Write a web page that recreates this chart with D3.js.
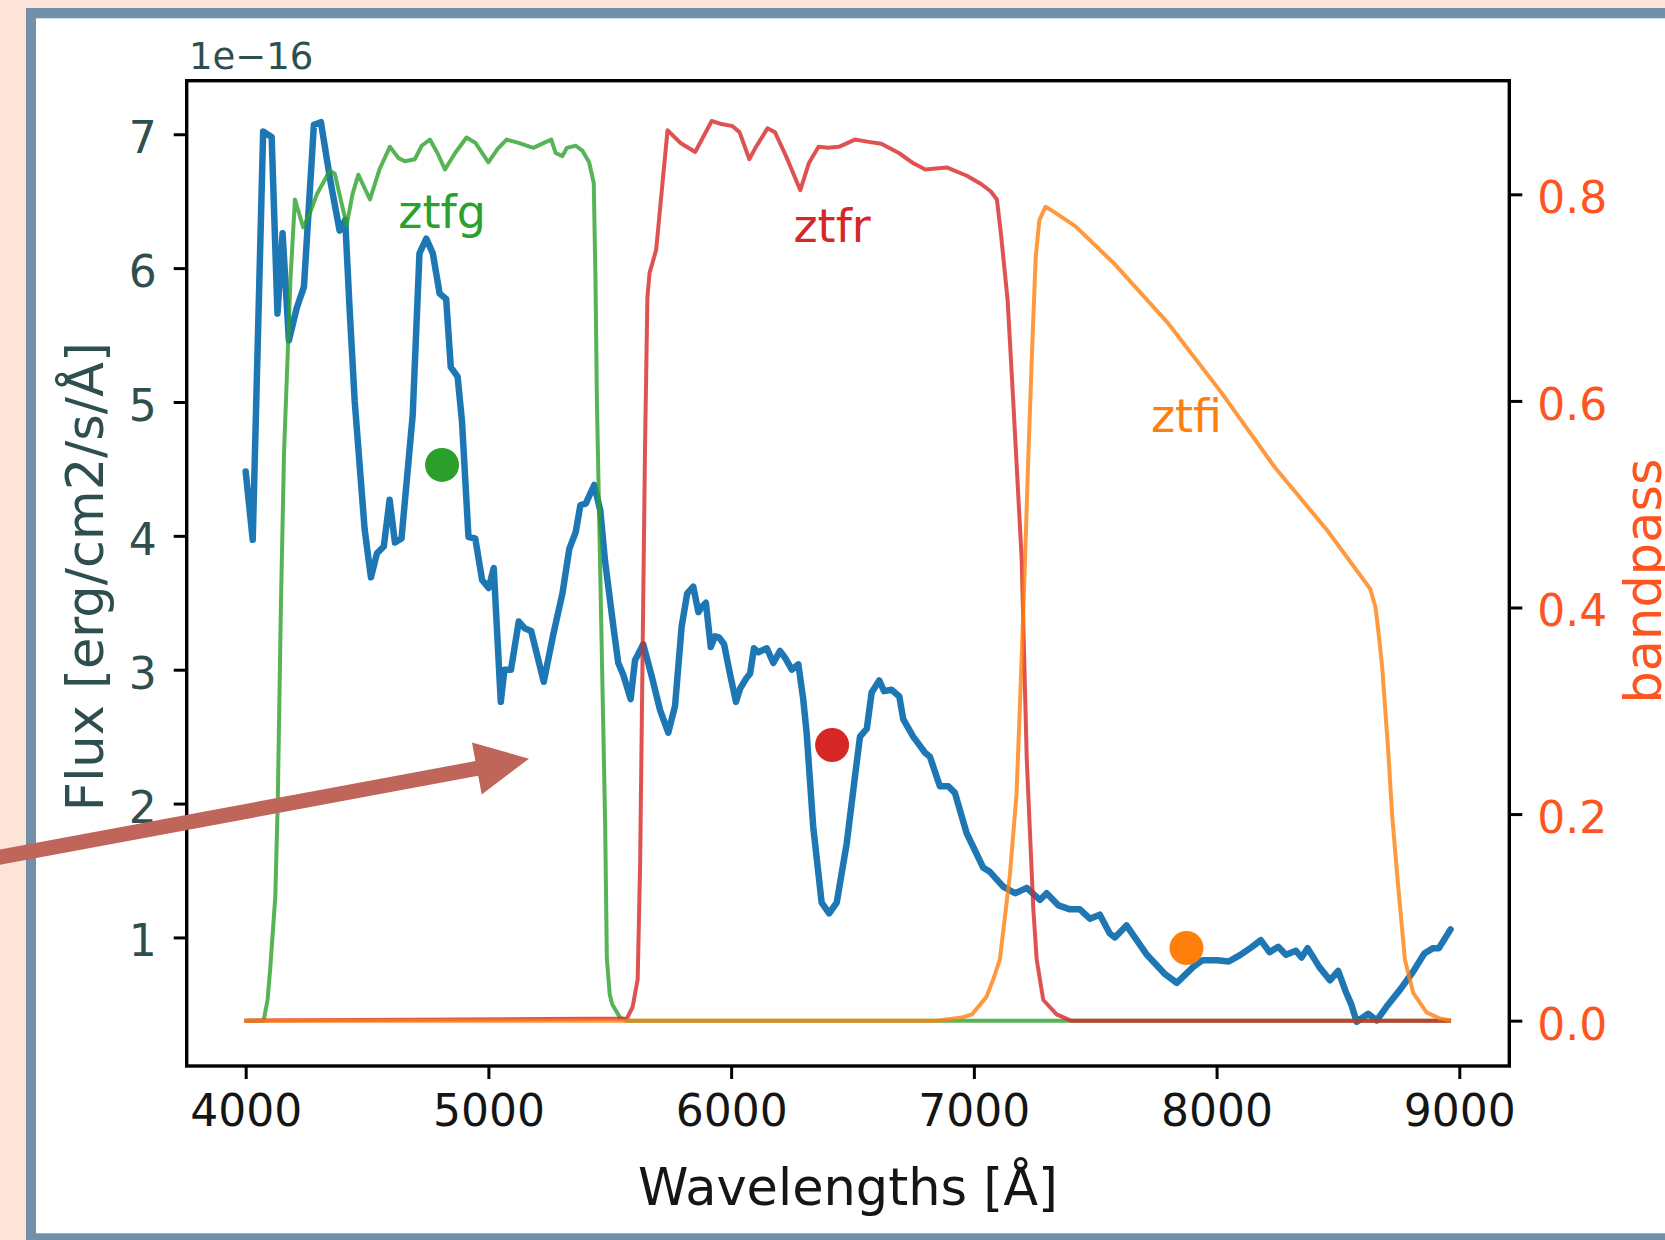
<!DOCTYPE html>
<html><head><meta charset="utf-8">
<script src="https://cdn.jsdelivr.net/npm/d3@7"></script>
<style>html,body{margin:0;padding:0;background:#fde4d8;}svg{display:block;}</style>
</head><body>
<svg id="chart" width="1665" height="1240"></svg>
<script>
// ---------------- data ----------------
const specWave = [4000,4029,4072,4107,4131,4152,4178,4210,4240,4281,4310,4350,4387,4410,4428,4449,4490,4516,4541,4569,4593,4615,4642,4688,4716,4744,4771,4799,4826,4845,4873,4891,4918,4946,4974,5001,5022,5051,5066,5093,5125,5149,5176,5228,5268,5305,5333,5360,5379,5401,5436,5461,5480,5515,5535,5556,5586,5604,5638,5673,5707,5741,5769,5796,5819,5844,5865,5879,5896,5916,5934,5951,5971,5995,6020,6037,6064,6078,6094,6112,6147,6174,6201,6222,6250,6277,6297,6311,6338,6373,6404,6435,6476,6510,6531,6559,6579,6610,6630,6661,6693,6709,6750,6799,6819,6860,6895,6922,6970,7039,7066,7121,7170,7218,7272,7300,7348,7396,7437,7478,7519,7560,7581,7629,7713,7785,7836,7904,7942,8002,8050,8098,8146,8182,8218,8254,8286,8327,8350,8375,8423,8467,8501,8531,8555,8577,8625,8660,8699,8756,8808,8856,8892,8916,8964];
const specFlux = [4.48,3.97,7.02,6.98,5.66,6.26,5.46,5.70,5.86,7.07,7.09,6.64,6.28,6.36,5.70,5.01,4.05,3.69,3.87,3.92,4.27,3.95,3.98,4.90,6.11,6.22,6.11,5.81,5.77,5.26,5.19,4.86,3.99,3.98,3.67,3.61,3.76,2.76,3.00,3.00,3.36,3.31,3.29,2.91,3.27,3.57,3.90,4.03,4.23,4.24,4.38,4.19,3.82,3.32,3.05,2.96,2.78,3.07,3.19,2.95,2.70,2.53,2.73,3.32,3.57,3.62,3.43,3.47,3.50,3.17,3.25,3.24,3.19,2.97,2.76,2.86,2.94,2.97,3.16,3.13,3.16,3.05,3.14,3.09,3.00,3.04,2.78,2.53,1.83,1.26,1.18,1.26,1.70,2.20,2.50,2.56,2.83,2.92,2.84,2.85,2.80,2.63,2.50,2.38,2.35,2.13,2.13,2.08,1.78,1.52,1.49,1.38,1.33,1.37,1.28,1.33,1.24,1.21,1.21,1.14,1.17,1.03,1.00,1.09,0.87,0.73,0.66,0.78,0.83,0.83,0.82,0.87,0.93,0.98,0.89,0.93,0.87,0.90,0.85,0.92,0.78,0.68,0.75,0.60,0.50,0.37,0.43,0.38,0.48,0.61,0.74,0.88,0.92,0.92,1.06];

const gWave = [3995,4074,4090,4101,4122,4132,4145,4158,4169,4185,4203,4237,4262,4293,4347,4367,4416,4440,4464,4512,4551,4594,4630,4656,4697,4725,4759,4790,4821,4863,4910,4946,5000,5038,5075,5121,5185,5231,5259,5277,5305,5323,5360,5388,5415,5434,5441,5447,5481,5488,5500,5510,5542,5570,8966];
const gBand = [0,0,0.02,0.05,0.12,0.21,0.40,0.55,0.62,0.72,0.795,0.768,0.78,0.80,0.823,0.82,0.77,0.80,0.819,0.795,0.824,0.846,0.835,0.832,0.834,0.847,0.853,0.840,0.824,0.840,0.855,0.850,0.831,0.844,0.853,0.850,0.845,0.850,0.853,0.840,0.837,0.845,0.847,0.842,0.831,0.811,0.72,0.60,0.19,0.06,0.025,0.016,0.003,0,0];

const rWave = [3995,5570,5594,5615,5625,5635,5645,5655,5664,5691,5738,5790,5852,5920,5960,6006,6035,6075,6100,6150,6181,6230,6285,6320,6360,6400,6444,6510,6560,6619,6691,6751,6800,6888,6971,7030,7069,7095,7111,7139,7162,7197,7218,7245,7259,7286,7341,7400,8966];
const rBand = [0,0.002,0.013,0.04,0.15,0.35,0.55,0.70,0.724,0.746,0.862,0.85,0.841,0.871,0.868,0.866,0.86,0.834,0.845,0.864,0.860,0.835,0.804,0.83,0.846,0.845,0.846,0.853,0.851,0.849,0.840,0.830,0.824,0.826,0.818,0.81,0.803,0.795,0.763,0.698,0.601,0.447,0.253,0.108,0.059,0.02,0.006,0,0];

const iWave = [3995,6847,6950,6992,7052,7080,7107,7148,7176,7197,7211,7225,7240,7255,7270,7295,7330,7419,7582,7801,8020,8239,8458,8633,8655,8670,8682,8707,8723,8747,8776,8810,8865,8920,8966];
const iBand = [0,0,0.003,0.006,0.023,0.04,0.059,0.14,0.22,0.35,0.447,0.55,0.65,0.74,0.775,0.788,0.783,0.769,0.732,0.675,0.608,0.536,0.474,0.418,0.400,0.37,0.343,0.262,0.200,0.133,0.059,0.027,0.008,0.002,0];

const filterNames = ["ztfg","ztfr","ztfi"];
const photWave = [4809, 6416, 7876];
const photFlux = [4.53, 2.437, 0.921];
const labelBand = [0.767, 0.754, 0.570];

const xTicks = [4000,5000,6000,7000,8000,9000];
const fluxTicks = [1,2,3,4,5,6,7];
const bandTicks = [0.0,0.2,0.4,0.6,0.8];

const arrowWave = [2946, 5167];
const arrowFlux = [1.585, 2.335];

// ---------------- drawing ----------------
const FONT = "DejaVu Sans, Verdana, sans-serif";
const svg = d3.select("#chart");
const L = 186.7, R = 1509.3, T = 80.7, B = 1066;

const defs = svg.append("defs");
defs.append("filter").attr("id","soft").attr("x","-5%").attr("y","-5%").attr("width","110%").attr("height","110%")
  .append("feGaussianBlur").attr("stdDeviation",0.6);

const x = d3.scaleLinear().domain([3757, 9206]).range([L, R]);
const yL = d3.scaleLinear().domain([0.0396, 7.400]).range([B, T]);
const yR = d3.scaleLinear().domain([-0.0439, 0.910]).range([B, T]);

// page frame
svg.append("rect").attr("x",0).attr("y",0).attr("width",1665).attr("height",1240).attr("fill","#fde4d8");
svg.append("rect").attr("x",26).attr("y",8).attr("width",1700).attr("height",1300).attr("fill","#7191ab");
svg.append("rect").attr("x",36).attr("y",18.3).attr("width",1700).attr("height",1215).attr("fill","#ffffff");

const plot = svg.append("g").attr("filter","url(#soft)");

// spectrum
const lineL = d3.line().x(d => x(d[0])).y(d => yL(d[1])).curve(d3.curveLinear);
plot.append("path")
  .datum(specWave.map((w,i) => [w, specFlux[i]]))
  .attr("d", lineL).attr("fill","none").attr("stroke","#1f77b4")
  .attr("stroke-width",6.5).attr("stroke-linejoin","round").attr("stroke-linecap","round");

// photometry dots
const dotColors = ["#2ca02c","#d62728","#ff7f0e"];
plot.selectAll("circle.phot").data(photWave).enter().append("circle")
  .attr("class","phot")
  .attr("cx", (d) => x(d)).attr("cy", (d,i) => yL(photFlux[i]))
  .attr("r", 17).attr("fill", (d,i) => dotColors[i]);

// bandpasses (twin axis, drawn on top)
const lineR = d3.line().x(d => x(d[0])).y(d => yR(d[1]));
const bands = [[gWave,gBand],[rWave,rBand],[iWave,iBand]];
bands.forEach((b, k) => {
  plot.append("path")
    .datum(b[0].map((w,i) => [w, b[1][i]]))
    .attr("d", lineR).attr("fill","none").attr("stroke", dotColors[k])
    .attr("stroke-opacity",0.8).attr("stroke-width",4)
    .attr("stroke-linejoin","round");
});

// filter labels
svg.selectAll("text.flab").data(filterNames).enter().append("text")
  .attr("class","flab")
  .attr("x", (d,i) => x(photWave[i])).attr("y", (d,i) => yR(labelBand[i]))
  .attr("text-anchor","middle").attr("font-family",FONT).attr("font-size",46)
  .attr("fill", (d,i) => dotColors[i]).text(d => d);

// spines
svg.append("rect").attr("x",L).attr("y",T).attr("width",R-L).attr("height",B-T)
  .attr("fill","none").attr("stroke","#000").attr("stroke-width",3.4);

function styleAxis(g, color) {
  g.select(".domain").remove();
  g.attr("font-family", FONT).attr("font-size", 44);
  g.selectAll(".tick line").attr("stroke","#000").attr("stroke-width",3);
  g.selectAll(".tick text").attr("fill", color);
}

const gx = svg.append("g").attr("transform",`translate(0,${B})`)
  .call(d3.axisBottom(x).tickValues(xTicks).tickSize(13).tickPadding(16).tickFormat(d3.format("d")));
styleAxis(gx, "#151515");

const gyl = svg.append("g").attr("transform",`translate(${L},0)`)
  .call(d3.axisLeft(yL).tickValues(fluxTicks).tickSize(13).tickPadding(17).tickFormat(d3.format("d")));
styleAxis(gyl, "#2f4f4f");
gyl.selectAll(".tick text").attr("dy","0.42em");

const gyr = svg.append("g").attr("transform",`translate(${R},0)`)
  .call(d3.axisRight(yR).tickValues(bandTicks).tickSize(13).tickPadding(15).tickFormat(d3.format(".1f")));
styleAxis(gyr, "#fd5420");
gyr.selectAll(".tick text").attr("dy","0.42em");

// axis labels
svg.append("text").attr("x",(L+R)/2).attr("y",1205).attr("text-anchor","middle")
  .attr("font-family",FONT).attr("font-size",51).attr("fill","#151515").text("Wavelengths [Å]");
svg.append("text").attr("transform","translate(103,576.7) rotate(-90)").attr("text-anchor","middle")
  .attr("font-family",FONT).attr("font-size",51).attr("fill","#2f4f4f").text("Flux [erg/cm2/s/Å]");
svg.append("text").attr("transform","translate(1661,581) rotate(-90)").attr("text-anchor","middle")
  .attr("font-family",FONT).attr("font-size",51).attr("fill","#fd5420").text("bandpass");
svg.append("text").attr("x",189).attr("y",69).attr("font-family",FONT).attr("font-size",37)
  .attr("fill","#2f4f4f").text("1e\u221216");

// annotation arrow
(function(){
  const p0 = [x(arrowWave[0]), yL(arrowFlux[0])];
  const p1 = [x(arrowWave[1]), yL(arrowFlux[1])];
  const dx = p1[0]-p0[0], dy = p1[1]-p0[1], len = Math.hypot(dx,dy);
  const u = [dx/len, dy/len], n = [-u[1], u[0]];
  const hl = 53, hw = 26.5, sw = 7.5;
  const base = [p1[0]-u[0]*hl, p1[1]-u[1]*hl];
  const pt = (p, s) => [p[0]+n[0]*s, p[1]+n[1]*s];
  const pts = [pt(p0,sw), pt(base,sw), pt(base,hw), p1, pt(base,-hw), pt(base,-sw), pt(p0,-sw)];
  svg.append("path").attr("d", "M" + pts.map(p => p.join(",")).join("L") + "Z").attr("fill","#c0655a");
})();
</script>
</body></html>
